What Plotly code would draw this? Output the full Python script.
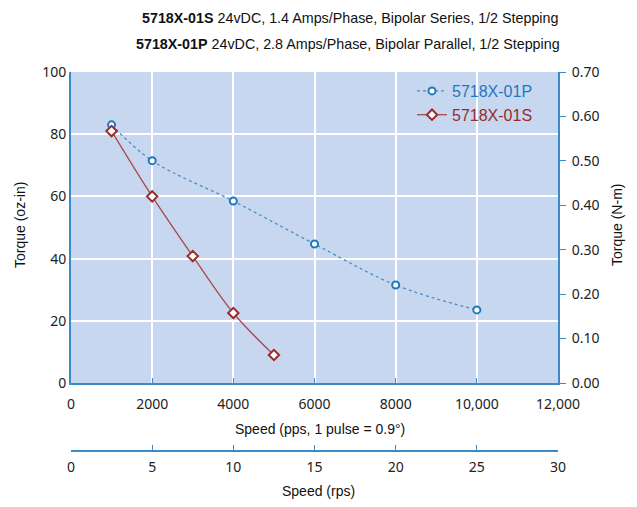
import plotly.graph_objects as go

speed_p = [1000, 2000, 4000, 6000, 8000, 10000]
torque_p = [83, 71.5, 58.5, 44.7, 31.5, 23.5]
speed_s = [1000, 2000, 3000, 4000, 5000]
torque_s = [81, 60, 40.8, 22.5, 9]

x_ticks = [0, 2000, 4000, 6000, 8000, 10000, 12000]
x_labels = ["0", "2000", "4000", "6000", "8000", "10,000", "12,000"]
rps_ticks = [0, 5, 10, 15, 20, 25, 30]
nm_ticks = [0, 0.1, 0.2, 0.3, 0.4, 0.5, 0.6, 0.7]

BLUE = "#1f78be"
BLUE_L = "#4a8fc6"
RED = "#9a2b2b"
RED_L = "#a84a4a"
AXIS = "#3b8bc9"
SANS = "Liberation Sans, Arial, sans-serif"
TICKF = "Noto Sans, Open Sans, sans-serif"

# page has an 8px body margin; compensate so picture pixels match the reference
OFF = 8
W, H = 637 - OFF, 507 - OFF
L, T = 71 - OFF, 72 - OFF
R = W - (558 - OFF)
B = 30
pw = W - L - R
ph = H - T - B


def px_x(px):
    return (px - OFF - L) / pw


def px_y(py):
    return (H - B - (py - OFF)) / ph


fig = go.Figure()
fig.add_trace(go.Scatter(
    x=speed_p, y=torque_p, mode="lines+markers", line_shape="spline",
    name='<span style="color:%s">5718X-01P</span>' % BLUE,
    line=dict(color=BLUE_L, width=1.3, dash="dot"),
    marker=dict(symbol="circle", size=7, color="white", line=dict(color=BLUE, width=2)),
))
fig.add_trace(go.Scatter(
    x=speed_s, y=torque_s, mode="lines+markers", line_shape="spline",
    name='<span style="color:%s">5718X-01S</span>' % RED,
    line=dict(color=RED_L, width=1.3),
    marker=dict(symbol="diamond", size=8, color="white", line=dict(color=RED, width=2)),
))
fig.add_trace(go.Scatter(x=[0], y=[0], yaxis="y2", mode="markers",
                         marker=dict(opacity=0), showlegend=False, hoverinfo="skip"))
fig.add_trace(go.Scatter(x=[0], y=[0], xaxis="x2", mode="markers",
                         marker=dict(opacity=0), showlegend=False, hoverinfo="skip"))

ydom0 = px_y(383)
rps_pos = px_y(451)


def ann(text, x, y, size, angle=0):
    return dict(text=text, textangle=angle, showarrow=False,
                xref="paper", yref="paper", x=px_x(x), y=px_y(y),
                xanchor="center", yanchor="middle",
                font=dict(family=SANS, size=size, color="#111"))


fig.update_layout(
    width=W, height=H,
    margin=dict(l=L, r=R, t=T, b=B, autoexpand=False),
    paper_bgcolor="white",
    plot_bgcolor="#c7d7ef",
    showlegend=True,
    legend=dict(x=px_x(412), y=px_y(74), xanchor="left", yanchor="top",
                bgcolor="rgba(0,0,0,0)", font=dict(family=SANS, size=16),
                tracegroupgap=0),
    xaxis=dict(range=[0, 12000], tickvals=x_ticks, ticktext=x_labels,
               showgrid=True, gridcolor="white", gridwidth=1.5, zeroline=False,
               showline=True, linecolor=AXIS, linewidth=2,
               ticks="inside", ticklen=5, tickcolor=AXIS, ticklabelstandoff=7,
               tickfont=dict(family=TICKF, size=14, color="#222"),
               anchor="y"),
    xaxis2=dict(range=[0, 30], tickvals=rps_ticks, overlaying="x", anchor="free",
                position=rps_pos, side="bottom", showgrid=False, zeroline=False,
                showline=True, linecolor=AXIS, linewidth=2,
                ticks="inside", ticklen=5, tickcolor=AXIS, ticklabelstandoff=3,
                tickfont=dict(family=TICKF, size=14, color="#222")),
    yaxis=dict(range=[0, 100], dtick=20, domain=[ydom0, 1],
               showgrid=True, gridcolor="white", gridwidth=1.5, zeroline=False,
               showline=True, linecolor=AXIS, linewidth=2,
               ticks="", tickfont=dict(family=TICKF, size=14, color="#222")),
    yaxis2=dict(range=[0, 0.7], tickvals=nm_ticks, tickformat=".2f",
                overlaying="y", side="right", anchor="x", showgrid=False, zeroline=False,
                showline=True, linecolor=AXIS, linewidth=2,
                ticks="outside", ticklen=6, tickcolor=AXIS, ticklabelstandoff=3,
                tickfont=dict(family=TICKF, size=14, color="#222")),
    annotations=[
        ann("<b>5718X-01S</b> 24vDC, 1.4 Amps/Phase, Bipolar Series, 1/2 Stepping", 350, 18, 14.3),
        ann("<b>5718X-01P</b> 24vDC, 2.8 Amps/Phase, Bipolar Parallel, 1/2 Stepping", 348, 44, 14.3),
        ann("Speed (pps, 1 pulse = 0.9°)", 320, 429, 14),
        ann("Speed (rps)", 318, 491, 14),
        ann("Torque (oz-in)", 20, 225, 14, -90),
        ann("Torque (N-m)", 617, 225, 14, -90),
    ],
)

fig.write_html("out.html")
